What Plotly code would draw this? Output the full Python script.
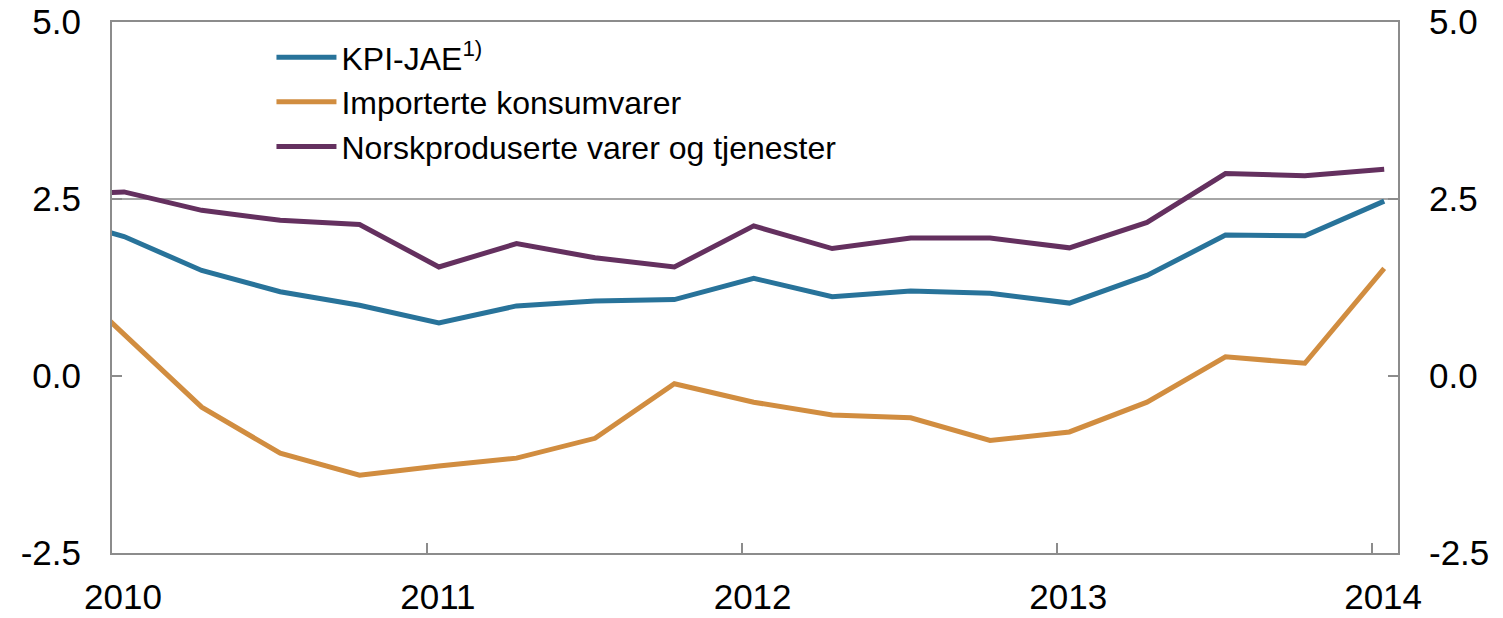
import plotly.graph_objects as go

dates = ["2009-10-15",
         "2010-01-15", "2010-04-15", "2010-07-15", "2010-10-15",
         "2011-01-15", "2011-04-15", "2011-07-15", "2011-10-15",
         "2012-01-15", "2012-04-15", "2012-07-15", "2012-10-15",
         "2013-01-15", "2013-04-15", "2013-07-15", "2013-10-15",
         "2014-01-15"]

kpi_jae = [2.28,
           1.97, 1.49, 1.19, 1.00,
           0.75, 0.99, 1.06, 1.08,
           1.38, 1.12, 1.20, 1.17,
           1.03, 1.42, 1.99, 1.98,
           2.47]

importerte = [1.64,
              0.60, -0.44, -1.09, -1.40,
              -1.27, -1.16, -0.88, -0.11,
              -0.37, -0.55, -0.59, -0.91,
              -0.79, -0.37, 0.27, 0.18,
              1.52]

norsk = [2.54,
         2.60, 2.34, 2.20, 2.14,
         1.54, 1.87, 1.67, 1.54,
         2.12, 1.80, 1.95, 1.95,
         1.81, 2.17, 2.86, 2.83,
         2.92]

names = ["KPI-JAE<sup>1)</sup>", "Importerte konsumvarer",
         "Norskproduserte varer og tjenester"]
colors = ["#28739A", "#D18D40", "#64305F"]
series = [kpi_jae, importerte, norsk]

y_ticks = [-2.5, 0.0, 2.5, 5.0]
y_labels = ["-2.5", "0.0", "2.5", "5.0"]
x_ticks = ["2010-01-01", "2011-01-01", "2012-01-01", "2013-01-01", "2014-01-01"]
x_labels = ["2010", "2011", "2012", "2013", "2014"]
target = 2.5

fig = go.Figure()
for name, col, vals in zip(names, colors, series):
    fig.add_trace(go.Scatter(x=dates, y=vals, name=name, mode="lines",
                             line=dict(color=col, width=5), yaxis="y"))

fig.add_trace(go.Scatter(x=dates, y=kpi_jae, yaxis="y2", mode="lines",
                         line=dict(width=0), showlegend=False, hoverinfo="skip",
                         opacity=0))

fig.add_shape(type="line", xref="paper", x0=0, x1=1, yref="y", y0=target, y1=target,
              line=dict(color="#A6A6A6", width=2), layer="below")

axis_color = "#8C8C8C"
font_family = "Liberation Sans, Arial, sans-serif"

yaxis_common = dict(range=[-2.5, 5.0], tickvals=y_ticks, ticktext=y_labels,
                    ticks="inside", ticklen=10, tickwidth=2, tickcolor=axis_color,
                    showline=True, linecolor=axis_color, linewidth=2,
                    showgrid=False, zeroline=False, automargin=False,
                    ticklabeloverflow="allow",
                    tickfont=dict(size=35), ticklabelstandoff=22)

fig.update_layout(
    width=1487, height=610,
    margin=dict(l=104, r=97, t=14, b=65),
    paper_bgcolor="white", plot_bgcolor="white",
    font=dict(family=font_family, size=35, color="black"),
    showlegend=True,
    legend=dict(x=0.124, y=0.985, xanchor="left", yanchor="top",
                font=dict(size=32, color="black"), bgcolor="rgba(0,0,0,0)",
                itemwidth=60, tracegroupgap=0),
    xaxis=dict(type="date", range=["2010-01-01", "2014-01-31"],
               tickvals=x_ticks, ticktext=x_labels,
               ticks="inside", ticklen=10, tickwidth=2, tickcolor=axis_color,
               showline=True, linecolor=axis_color, linewidth=2, mirror=True,
               showgrid=False, zeroline=False, automargin=False,
               ticklabeloverflow="allow",
               tickfont=dict(size=35), ticklabelshift=11, ticklabelstandoff=12),
    yaxis=dict(**yaxis_common, mirror=True),
    yaxis2=dict(**yaxis_common, overlaying="y", side="right"),
)

fig.write_html("out.html")
